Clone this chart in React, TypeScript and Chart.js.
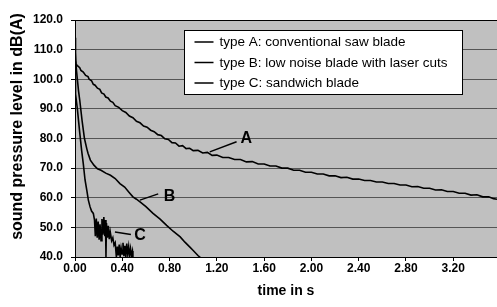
import React, { useEffect, useRef } from "react";
import { Chart, registerables } from "chart.js";

Chart.register(...registerables);

// ---------- data ----------
const seriesNames = [
  "type A: conventional saw blade",
  "type B: low noise blade with laser cuts",
  "type C: sandwich blade",
];
const xAxisTitle = "time in s";
const yAxisTitle = "sound pressure level in dB(A)";

const typeA_time = [
  0, 0.005, 0.02, 0.04, 0.05, 0.07, 0.09, 0.11, 0.12, 0.14, 0.155, 0.17, 0.19, 0.21, 0.225, 0.245,
  0.26, 0.28, 0.3, 0.32, 0.34, 0.37, 0.4, 0.43, 0.46, 0.49, 0.52, 0.55, 0.58, 0.61, 0.64, 0.67,
  0.7, 0.73, 0.76, 0.79, 0.82, 0.85, 0.88, 0.91, 0.94, 0.97, 1.0, 1.04, 1.08, 1.12, 1.16, 1.2,
  1.25, 1.3, 1.35, 1.4, 1.45, 1.5, 1.55, 1.6, 1.65, 1.7, 1.75, 1.8, 1.85, 1.9, 1.95, 2.0, 2.05,
  2.1, 2.15, 2.2, 2.25, 2.3, 2.35, 2.4, 2.45, 2.5, 2.55, 2.6, 2.65, 2.7, 2.75, 2.8, 2.85, 2.9,
  2.95, 3.0, 3.05, 3.1, 3.15, 3.2, 3.25, 3.3, 3.35, 3.4, 3.45, 3.5, 3.54, 3.57,
];
const typeA_level = [
  106.0, 105.2, 104.6, 103.9, 103.0, 102.4, 101.3, 100.9, 100.0, 99.5, 98.3, 98.0, 97.0, 96.6, 95.4, 95.0,
  94.0, 93.7, 92.6, 92.2, 91.1, 90.5, 89.4, 88.8, 87.6, 87.0, 85.8, 85.3, 84.2, 83.8, 82.8, 82.3,
  81.3, 81.0, 79.9, 79.7, 78.6, 78.5, 77.4, 77.6, 76.6, 76.7, 75.9, 76.0, 75.1, 75.3, 74.3, 74.4,
  73.6, 73.6, 72.9, 72.9, 72.1, 72.2, 71.4, 71.4, 70.7, 70.7, 70.0, 70.0, 69.3, 69.3, 68.6, 68.6, 68.0,
  68.0, 67.4, 67.4, 66.8, 66.9, 66.3, 66.3, 65.8, 65.8, 65.3, 65.3, 64.8, 64.8, 64.3, 64.3, 63.7, 63.8,
  63.2, 63.2, 62.6, 62.7, 62.1, 62.1, 61.5, 61.5, 60.9, 61.0, 60.3, 60.3, 59.7, 59.5,
];

const typeB_time = [
  0, 0.01, 0.02, 0.03, 0.04, 0.06, 0.08, 0.1, 0.11, 0.13, 0.16, 0.19, 0.22, 0.26, 0.3, 0.34,
  0.38, 0.42, 0.46, 0.49, 0.52, 0.55, 0.6, 0.66, 0.72, 0.775, 0.83, 0.89, 0.93, 0.97, 1.0, 1.04, 1.07,
];
const typeB_level = [
  110.0, 104.0, 100.0, 96.0, 93.0, 86.0, 80.0, 76.5, 75.0, 72.7, 71.0, 69.8, 69.3, 68.3, 67.6, 66.5,
  64.8, 63.6, 61.7, 60.3, 59.5, 58.6, 57.0, 54.7, 52.8, 50.7, 48.7, 46.8, 45.0, 43.4, 42.2, 40.5, 39.5,
];

const typeC_time = [
  0, 0.003, 0.006, 0.02, 0.04, 0.056, 0.07, 0.085, 0.1, 0.113, 0.127, 0.14, 0.155,
  0.165, 0.172, 0.18, 0.188, 0.196, 0.204, 0.212, 0.22, 0.228, 0.236, 0.244, 0.252, 0.258, 0.262,
  0.266, 0.274, 0.282, 0.29, 0.298, 0.31, 0.32, 0.33, 0.34, 0.35, 0.358, 0.366, 0.374, 0.382,
  0.39, 0.398, 0.406, 0.414, 0.422, 0.43, 0.438, 0.446, 0.454, 0.462, 0.47, 0.478, 0.486, 0.49,
];
const typeC_level = [
  114.0, 104.0, 95.0, 90.0, 82.0, 76.0, 71.5, 66.0, 62.5, 59.2, 57.0, 55.5, 54.7,
  52.5, 47.0, 53.0, 46.5, 52.0, 45.8, 51.0, 45.5, 52.8, 47.5, 53.5, 47.0, 52.5, 40.0,
  51.5, 46.5, 50.5, 46.0, 48.5, 45.5, 46.5, 44.0, 44.8, 40.0, 43.5, 40.5, 44.2, 40.0,
  43.0, 41.0, 44.8, 40.3, 43.8, 40.0, 44.5, 41.0, 43.5, 40.2, 42.8, 40.5, 42.0, 40.0,
];

const xTickLabels = ["0.00", "0.40", "0.80", "1.20", "1.60", "2.00", "2.40", "2.80", "3.20"];
const yTickLabels = ["40.0", "50.0", "60.0", "70.0", "80.0", "90.0", "100.0", "110.0", "120.0"];

// callout labels (positions in data units)
const calloutText = ["A", "B", "C"];
const calloutLabelTime = [1.45, 0.8, 0.55];
const calloutLabelLevel = [79.8, 60.4, 47.3];
const calloutFromTime = [1.14, 0.549, 0.338];
const calloutFromLevel = [75.5, 59.2, 48.4];
const calloutToTime = [1.367, 0.704, 0.473];
const calloutToLevel = [78.9, 61.3, 47.6];

const FONT = '"Liberation Sans", Arial, sans-serif';

const toPoints = (t: number[], v: number[]) => t.map((x, i) => ({ x, y: v[i] }));

const plotBackground = {
  id: "plotBackground",
  beforeDraw(chart: any) {
    const { ctx, chartArea } = chart;
    ctx.save();
    ctx.fillStyle = "#c0c0c0";
    ctx.fillRect(chartArea.left, chartArea.top, chartArea.right - chartArea.left, chartArea.bottom - chartArea.top);
    ctx.restore();
  },
};

const yTitle = {
  id: "yTitle",
  afterDraw(chart: any) {
    const { ctx, chartArea } = chart;
    ctx.save();
    ctx.translate(18, (chartArea.top + chartArea.bottom) / 2 - 12);
    ctx.rotate(-Math.PI / 2);
    ctx.font = `bold 16px ${FONT}`;
    ctx.fillStyle = "#000";
    ctx.textAlign = "center";
    ctx.textBaseline = "middle";
    ctx.fillText(yAxisTitle, 0, 0);
    ctx.restore();
  },
};

const callouts = {
  id: "callouts",
  afterDatasetsDraw(chart: any) {
    const { ctx, scales } = chart;
    const xs = scales.x;
    const ys = scales.y;
    ctx.save();
    ctx.strokeStyle = "#000";
    ctx.lineWidth = 1.5;
    ctx.fillStyle = "#000";
    ctx.font = `bold 16px ${FONT}`;
    ctx.textAlign = "center";
    ctx.textBaseline = "middle";
    calloutText.forEach((txt, i) => {
      ctx.beginPath();
      ctx.moveTo(xs.getPixelForValue(calloutFromTime[i]), ys.getPixelForValue(calloutFromLevel[i]));
      ctx.lineTo(xs.getPixelForValue(calloutToTime[i]), ys.getPixelForValue(calloutToLevel[i]));
      ctx.stroke();
      ctx.fillText(txt, xs.getPixelForValue(calloutLabelTime[i]), ys.getPixelForValue(calloutLabelLevel[i]));
    });
    ctx.restore();
  },
};

const legendBox = {
  id: "legendBox",
  afterDraw(chart: any) {
    const { ctx, chartArea } = chart;
    const left = chartArea.left + 109.5;
    const top = chartArea.top + 10.5;
    const w = 278;
    const h = 64;
    ctx.save();
    ctx.fillStyle = "#fff";
    ctx.fillRect(left, top, w, h);
    ctx.strokeStyle = "#000";
    ctx.lineWidth = 1;
    ctx.strokeRect(left, top, w, h);
    ctx.font = `13.5px ${FONT}`;
    ctx.textAlign = "left";
    ctx.textBaseline = "middle";
    ctx.fillStyle = "#000";
    seriesNames.forEach((name, i) => {
      const y = top + 11.5 + i * 20.5;
      ctx.beginPath();
      ctx.lineWidth = 1.5;
      ctx.moveTo(left + 10, y);
      ctx.lineTo(left + 29, y);
      ctx.stroke();
      ctx.fillText(name, left + 35, y + 0.5);
    });
    ctx.restore();
  },
};

export default function App() {
  const canvasRef = useRef<HTMLCanvasElement | null>(null);

  useEffect(() => {
    const canvas = canvasRef.current;
    if (!canvas) return;
    const ds = (t: number[], v: number[], label: string) => ({
      label,
      data: toPoints(t, v),
      borderColor: "#000",
      borderWidth: 1.6,
      pointRadius: 0,
      tension: 0,
      fill: false,
      clip: 0,
    });
    const chart = new Chart(canvas, {
      type: "line",
      data: {
        datasets: [
          ds(typeA_time, typeA_level, seriesNames[0]),
          ds(typeB_time, typeB_level, seriesNames[1]),
          ds(typeC_time, typeC_level, seriesNames[2]),
        ],
      },
      options: {
        animation: false,
        responsive: false,
        devicePixelRatio: 1,
        layout: { padding: { top: 20, right: 0, left: 0, bottom: 0 } },
        plugins: { legend: { display: false }, tooltip: { enabled: false } },
        scales: {
          x: {
            type: "linear",
            min: 0,
            max: 3.57,
            afterBuildTicks: (scale: any) => {
              scale.ticks = xTickLabels.map((s) => ({ value: parseFloat(s) }));
            },
            afterFit: (scale: any) => {
              scale.height = 50;
              scale.paddingLeft = 0;
              scale.paddingRight = 0;
            },
            ticks: {
              autoSkip: false,
              maxRotation: 0,
              padding: 0,
              color: "#000",
              font: { family: FONT, size: 12, weight: "bold" },
              callback: (v: any) => {
                const idx = xTickLabels.findIndex((s) => Math.abs(parseFloat(s) - Number(v)) < 1e-6);
                return idx >= 0 ? xTickLabels[idx] : "";
              },
            },
            grid: { drawOnChartArea: false, drawTicks: true, tickLength: 4, tickColor: "#000" },
            border: { color: "#000", width: 1 },
            title: {
              display: true,
              text: xAxisTitle,
              color: "#000",
              font: { family: FONT, size: 14, weight: "bold" },
              padding: { top: 0, bottom: 7 },
            },
          },
          y: {
            type: "linear",
            min: 40,
            max: 120,
            afterBuildTicks: (scale: any) => {
              scale.ticks = yTickLabels.map((s) => ({ value: parseFloat(s) }));
            },
            afterFit: (scale: any) => {
              scale.width = 75;
              scale.paddingTop = 0;
              scale.paddingBottom = 0;
            },
            ticks: {
              padding: 8,
              color: "#000",
              font: { family: FONT, size: 12, weight: "bold" },
              callback: (v: any) => {
                const idx = yTickLabels.findIndex((s) => Math.abs(parseFloat(s) - Number(v)) < 1e-6);
                return idx >= 0 ? yTickLabels[idx] : "";
              },
            },
            grid: {
              drawOnChartArea: true,
              drawTicks: true,
              tickLength: 4,
              tickColor: "#000",
              color: (c: any) => (c.tick && c.tick.value === 120 ? "#000" : "#555"),
              lineWidth: 1,
            },
            border: { color: "#000", width: 1 },
            title: { display: false },
          },
        },
      },
      plugins: [plotBackground, callouts, legendBox, yTitle],
    } as any);
    return () => chart.destroy();
  }, []);

  return (
    <div style={{ position: "fixed", left: 0, top: 0, width: 497, height: 307, background: "#fff", overflow: "hidden" }}>
      <canvas ref={canvasRef} width={497} height={307} style={{ width: 497, height: 307, display: "block" }} />
    </div>
  );
}
